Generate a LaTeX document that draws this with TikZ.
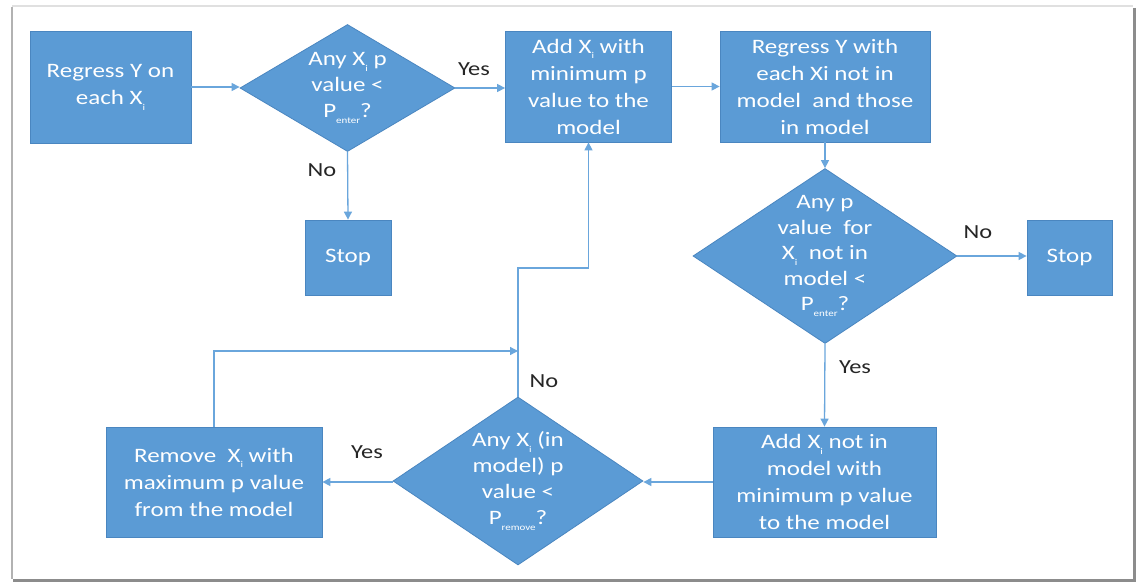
\documentclass[tikz,border=0pt]{standalone}
\usepackage{fontspec}
\setmainfont{Carlito}[FakeStretch=1.22]
\usetikzlibrary{shapes.geometric,arrows.meta}
\definecolor{boxfill}{HTML}{5B9BD5}
\definecolor{boxedge}{HTML}{4A86C0}
\definecolor{linecol}{HTML}{6AA6DC}
\newcommand\xsub[1]{\raisebox{-0.6ex}{\fontsize{9}{9}\selectfont #1}}
\begin{document}
\begin{tikzpicture}[x=1pt,y=-1pt,
  box/.style={draw=boxedge,line width=0.8pt,fill=boxfill,text=white,align=center,inner sep=0pt,
    font=\fontsize{20.5}{27}\selectfont},
  dia/.style={draw=boxedge,line width=0.8pt,fill=boxfill,shape=diamond,inner sep=0pt},
  diatext/.style={text=white,align=center,inner sep=0pt,font=\fontsize{20.5}{26}\selectfont},
  lbl/.style={text=black!85,inner sep=0pt,font=\fontsize{20}{24}\selectfont},
  conn/.style={draw=linecol,line width=1.3pt,-{Triangle[length=8pt,width=8pt]}},
  plain/.style={draw=linecol,line width=1.3pt}
]
\useasboundingbox (0,0) rectangle (1137,583);
% frame
\fill[white] (0,0) rectangle (1137,583);
\draw[black!12,line width=1.5pt] (12,6) -- (1133,6);
\draw[black!30,line width=2.5pt] (12,7) -- (12,579);
\draw[black!45,line width=3pt] (1134,8) -- (1134,580) -- (13,580);
% top row
\node[box,minimum width=161pt,minimum height=112pt] (b1) at (110.5,87) {Regress Y on\\each X\xsub{i}};
\node[dia,minimum width=215pt,minimum height=127pt] (d1) at (347.5,88) {};
\node[diatext] (d1t) at (d1.center) {Any X\xsub{i} p\\value <\\P\xsub{enter}?};
\node[box,minimum width=166pt,minimum height=111pt] (b2) at (588.5,86.5) {Add X\xsub{i} with\\minimum p\\value to the\\model};
\node[box,minimum width=210pt,minimum height=111pt] (b3) at (825,86.5) {Regress Y with\\each Xi not in\\model\ \ and those\\in model};
\node[box,minimum width=86pt,minimum height=75pt] (s1) at (348,257.5) {Stop};
% middle
\node[dia,minimum width=264pt,minimum height=175pt] (d2) at (825,256) {};
\node[diatext,font=\fontsize{20.5}{25.5}\selectfont] (d2t) at (d2.center) {Any p\\value\ \ for\\X\xsub{i}\ \ not in\\model <\\P\xsub{enter}?};
\node[box,minimum width=85pt,minimum height=75pt] (s2) at (1069.5,257.5) {Stop};
% bottom row
\node[box,minimum width=223pt,minimum height=110pt] (b4) at (824.5,482) {Add X\xsub{i} not in\\model with\\minimum p value\\to the model};
\node[dia,minimum width=250pt,minimum height=168pt] (d3) at (518,481) {};
\node[diatext] (d3t) at (d3.center) {Any X\xsub{i} (in\\model) p\\value <\\P\xsub{remove}?};
\node[box,minimum width=216pt,minimum height=110pt] (b5) at (214,482) {Remove\ \ X\xsub{i} with\\maximum p value\\from the model};
% labels
\node[lbl] (l1) at (474,69) {Yes};
\node[lbl] (l2) at (322,170) {No};
\node[lbl] (l3) at (978,232) {No};
\node[lbl] (l4) at (855,367) {Yes};
\node[lbl] (l5) at (544,381) {No};
\node[lbl] (l6) at (367,452) {Yes};
% connectors
\draw[conn] (b1.east) -- (d1.west |- b1.east);
\draw[conn] (d1.east) -- (b2.west |- d1.east);
\draw[conn] (d1.south) -- (s1.north);
\draw[conn] (b2.east) -- (b3.west);
\draw[conn] (b3.south) -- (d2.north);
\draw[conn] (d2.east) -- (s2.west |- d2.east);
\draw[conn] (d2.south) -- (b4.north);
\draw[conn] (b4.west) -- (d3.east |- b4.west);
\draw[conn] (d3.west |- b5.east) -- (b5.east);
\coordinate (c1) at (518,268);
\coordinate (c2) at (588.5,268);
\draw[conn] (d3.north) -- (c1) -- (c2) -- (b2.south);
\coordinate (c3) at (214,351);
\coordinate (c4) at (518,351);
\draw[conn] (b5.north) -- (c3) -- (c4);
\end{tikzpicture}
\end{document}
